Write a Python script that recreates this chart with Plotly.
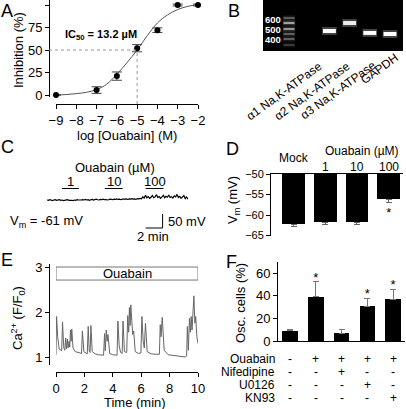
import numpy as np
import plotly.graph_objects as go

W, H = 406, 409
FONT = "Arial, Liberation Sans, sans-serif"

# ---------------- DATA ----------------
# Panel A: dose response
a_logc = [-9, -7, -6, -5, -4, -3, -2]
a_inh = [0, 5.5, 21, 52, 72, 100, 100]
a_err = [0, 3.7, 4.6, 4.0, 2.6, 1.0, 1.0]
a_fit_x = [-9, -8.5, -8, -7.5, -7, -6.5, -6, -5.5, -5, -4.5, -4, -3.5, -3, -2.5, -2]
a_fit_y = [0, 0.5, 1.5, 3, 6, 12, 23, 36, 50, 66, 80, 89, 95, 98.5, 100.5]
a_ic50_logc = -5.0
a_ic50_inh = 50
a_xticks = [-9, -8, -7, -6, -5, -4, -3, -2]
a_yticks = [0, 25, 50, 75, 100]

# Panel B: gel
b_ladder_bp = [662, 583, 500, 440, 387, 332]
b_ladder_int = [0.30, 0.55, 0.50, 0.30, 0.30, 0.18]
b_band_lane = [2, 3, 4, 5]
b_band_bp = [475, 583, 452, 440]
b_band_int = [1.0, 0.9, 1.0, 1.0]
b_marker_bp = [600, 500, 400]
b_lane_labels = ["α1 Na,K-ATPase", "α2 Na,K-ATPase", "α3 Na,K-ATPase", "GAPDH"]

# Panel C: membrane potential trace (mV), sampled every c_dt minutes
c_dt = 0.161
c_vm = [-61, -62, -60, -61, -63, -61, -60, -62, -61, -60, -62, -61, -63, -62, -61, -60,
        -62, -61, -62, -63, -61, -62, -60, -61, -62, -61, -60, -61, -59, -61, -60, -62,
        -60, -59, -61, -60, -58, -60, -61, -59, -60, -58, -60, -59, -61, -60, -58, -59,
        -60, -58, -59, -57, -59, -58, -60, -58, -59,
        -58, -57, -59, -57, -58, -56, -58, -57, -59, -56, -57, -55, -57,
        -50, -54, -44, -53, -49, -55, -51, -45, -53, -50, -42, -52, -49, -55, -50, -44,
        -53, -48, -51, -43, -52, -49, -54, -46, -50, -41, -52, -48, -55, -51, -45, -56,
        -50, -58]
c_drug_labels = ["1", "10", "100"]
c_drug_start = [1.75, 6.8, 11.6]
c_drug_end = [3.75, 8.9, 13.7]
c_baseline = -61

# Panel D: resting potential
d_groups = ["Mock", "1", "10", "100"]
d_vm = [-62.3, -61.8, -61.8, -56.2]
d_err = [0.5, 0.4, 0.5, 0.8]
d_yticks = [-50, -55, -60, -65]

# Panel E: calcium trace
e_t = [0.00, 0.04, 0.12, 0.22, 0.40, 0.46, 0.55, 0.62, 0.68, 0.74, 0.80, 0.85, 0.92, 0.97,
       1.02, 1.07, 1.11, 1.20, 1.35, 1.60, 1.80, 1.86, 1.96, 2.20, 2.27, 2.34, 2.40, 2.46,
       2.55, 2.75, 3.00, 3.35, 3.42, 3.47, 3.54, 3.60, 3.66, 3.78, 4.00, 4.30, 4.36, 4.45,
       4.55, 4.66, 4.72, 4.82, 4.98, 5.05, 5.12, 5.17, 5.22, 5.27, 5.34, 5.40, 5.47, 5.58,
       5.80, 5.98, 6.05, 6.14, 6.22, 6.30, 6.42, 6.70, 7.10, 7.28, 7.34, 7.40, 7.48, 7.62,
       7.90, 8.50, 9.10, 9.20, 9.25, 9.32, 9.40, 9.46, 9.52, 9.58, 9.65, 9.71, 9.78, 9.84,
       9.92, 10.0]
e_ratio = [1.05, 1.90, 1.45, 1.18, 1.14, 1.78, 1.20, 1.15, 1.42, 1.18, 1.40, 1.20, 1.35, 1.22,
           1.60, 1.35, 1.62, 1.20, 1.12, 1.10, 1.08, 1.58, 1.12, 1.07, 1.68, 1.13, 1.10, 1.70,
           1.12, 1.07, 1.05, 1.04, 1.52, 1.14, 1.60, 1.35, 1.50, 1.08, 1.05, 1.04, 1.80, 1.25,
           1.10, 1.08, 1.80, 1.12, 1.10, 1.92, 1.55, 2.10, 1.70, 2.16, 1.75, 1.50, 1.58, 1.12,
           1.08, 1.09, 1.90, 1.35, 1.20, 1.75, 1.12, 1.07, 1.06, 1.06, 1.72, 1.45, 1.88, 1.15,
           1.05, 1.02, 1.00, 1.02, 1.68, 1.15, 1.86, 1.55, 1.90, 1.60, 2.05, 2.36, 1.75, 1.90,
           1.45, 1.30]
e_drug_start, e_drug_end = 0, 10
e_box_low, e_box_high = 2.71, 3.0

# Panel F: oscillating cells
f_osc = [9.2, 39.2, 6.8, 30.9, 36.8]
f_err = [1.2, 13.2, 3.5, 6.8, 9.1]
f_sig = [False, True, False, True, True]
f_row_names = ["Ouabain", "Nifedipine", "U0126", "KN93"]
f_ouabain = ["-", "+", "+", "+", "+"]
f_nifedipine = ["-", "-", "+", "-", "-"]
f_u0126 = ["-", "-", "-", "+", "-"]
f_kn93 = ["-", "-", "-", "-", "+"]

# ---------------- HELPERS ----------------
def PX(x):
    return x / W


def PY(y):
    return 1 - y / H


def lin(p, p0, v0, p1, v1):
    return v0 + (p - p0) * (v1 - v0) / (p1 - p0)


def font(size=13, color="black"):
    return dict(family=FONT, size=size, color=color)


axis_base = dict(showgrid=False, zeroline=False, showline=True, linecolor="black",
                 linewidth=1, ticks="outside", ticklen=4, tickcolor="black",
                 tickwidth=1, tickfont=font(13), automargin=False)

fig = go.Figure()
ann = []
shapes = []

# ---------------- PANEL A ----------------
a_yr = [lin(97, 95, 0, 5, 100), lin(0, 95, 0, 5, 100)]
fig.add_trace(go.Scatter(x=a_fit_x, y=a_fit_y, mode="lines", line=dict(color="#555", width=1, shape="spline"),
                         xaxis="x", yaxis="y", hoverinfo="skip"))
fig.add_trace(go.Scatter(x=a_logc, y=a_inh, mode="markers", marker=dict(color="black", size=6),
                         error_y=dict(type="data", array=a_err, color="#444", thickness=1, width=5),
                         cliponaxis=False, xaxis="x", yaxis="y"))
a_dom_y = [PY(97), PY(0)]
y50_paper = a_dom_y[0] + (a_ic50_inh - a_yr[0]) / (a_yr[1] - a_yr[0]) * (a_dom_y[1] - a_dom_y[0])
shapes.append(dict(type="line", xref="paper", yref="y", x0=PX(49), x1=lin(a_ic50_logc, -9, 56, -2, 198) / W,
                   y0=a_ic50_inh, y1=a_ic50_inh, line=dict(color="#999", width=1, dash="dot")))
shapes.append(dict(type="line", xref="x", yref="paper", x0=a_ic50_logc, x1=a_ic50_logc,
                   y0=PY(104), y1=y50_paper, line=dict(color="#999", width=1, dash="dot")))
layout = dict(
    xaxis=dict(axis_base, domain=[PX(56), PX(198)], range=[-9, -2], anchor="free", position=PY(104),
               tickvals=a_xticks),
    yaxis=dict(axis_base, domain=a_dom_y, range=a_yr, anchor="free", position=PX(49),
               tickvals=a_yticks),
)
ann += [
    dict(text="Inhibition (%)", x=PX(18), y=PY(50), textangle=-90, font=font(13)),
    dict(text="log [Ouabain] (M)", x=PX(127), y=PY(135), font=font(13), borderpad=0),
    dict(text="<b>IC<sub>50</sub> = 13.2 µM</b>", x=PX(63), y=PY(35), xanchor="left", font=font(11)),
]

# ---------------- PANEL B ----------------
b_xr = [lin(263, 289, 0, 390, 5), lin(403, 289, 0, 390, 5)]
b_yr = [np.log10(500) - (51 - 29) / 90, np.log10(500) + 29 / 90]
shapes.append(dict(type="rect", xref="x2 domain", yref="y2 domain", x0=0, x1=1, y0=0, y1=1,
                   fillcolor="black", line=dict(width=0), layer="below"))
for bp, it in zip(b_ladder_bp, b_ladder_int):
    yv = np.log10(bp)
    fig.add_trace(go.Scatter(x=[-0.3, 0.3], y=[yv, yv], mode="lines", xaxis="x2", yaxis="y2",
                             line=dict(color=f"rgba(255,255,255,{it*0.35:.2f})", width=5), hoverinfo="skip"))
    fig.add_trace(go.Scatter(x=[-0.27, 0.27], y=[yv, yv], mode="lines", xaxis="x2", yaxis="y2",
                             line=dict(color=f"rgba(255,255,255,{it:.2f})", width=2), hoverinfo="skip"))
for ln, bp, it in zip(b_band_lane, b_band_bp, b_band_int):
    yv = np.log10(bp)
    fig.add_trace(go.Scatter(x=[ln - 0.36, ln + 0.36], y=[yv, yv], mode="lines", xaxis="x2", yaxis="y2",
                             line=dict(color="rgba(255,255,255,0.25)", width=8), hoverinfo="skip"))
    fig.add_trace(go.Scatter(x=[ln - 0.32, ln + 0.32], y=[yv, yv], mode="lines", xaxis="x2", yaxis="y2",
                             line=dict(color=f"rgba(255,255,255,{it:.2f})", width=4), hoverinfo="skip"))
for bp, ys in zip(b_marker_bp, [2, 0, -1.5]):
    ann.append(dict(text=f"<b>{bp}</b>", xref="x2", yref="y2", x=lin(263.5, 289, 0, 390, 5), y=np.log10(bp),
                    yshift=ys, xanchor="left", font=font(9.5, "white"), borderpad=0))
layout["xaxis2"] = dict(domain=[PX(263), PX(403)], range=b_xr, visible=False, anchor="y2")
layout["yaxis2"] = dict(domain=[PY(51), PY(0)], range=b_yr, visible=False, anchor="x2")
lab_end = [(326, 57), (354, 57), (380, 56), (402, 49)]
for txt, (ex, ey) in zip(b_lane_labels, lab_end):
    ann.append(dict(text=txt, x=PX(ex), y=PY(ey), xanchor="right", yanchor="top", textangle=-36,
                    font=font(12), borderpad=0))

# ---------------- PANEL C ----------------
c_t = [i * c_dt for i in range(len(c_vm))]
mvpp = 50 / 14.0
c_yr = [c_baseline - 40 * mvpp, c_baseline + 40 * mvpp]
fig.add_trace(go.Scatter(x=c_t, y=c_vm, mode="lines", line=dict(color="black", width=1.2),
                         xaxis="x3", yaxis="y3", hoverinfo="skip"))
bar_y = c_baseline + 11.5 * mvpp
for lab, s, e in zip(c_drug_labels, c_drug_start, c_drug_end):
    fig.add_trace(go.Scatter(x=[s, e], y=[bar_y, bar_y], mode="lines", line=dict(color="black", width=1),
                             xaxis="x3", yaxis="y3", hoverinfo="skip"))
    ann.append(dict(text=lab, xref="x3", x=(s + e) / 2, y=PY(181.5), font=font(13), borderpad=0))
sb_y = c_baseline - 28 * mvpp
sb_x1 = c_drug_start[2] + 2.0
fig.add_trace(go.Scatter(x=[c_drug_start[2], sb_x1, sb_x1], y=[sb_y, sb_y, sb_y + 50], mode="lines",
                         line=dict(color="black", width=1), xaxis="x3", yaxis="y3", hoverinfo="skip"))
layout["xaxis3"] = dict(domain=[PX(47), PX(188)], range=[0, 141 / 8.5], visible=False, anchor="y3")
layout["yaxis3"] = dict(domain=[PY(240), PY(160)], range=c_yr, visible=False, anchor="x3")
ann += [
    dict(text="Ouabain (µM)", x=PX(115), y=PY(167), font=font(13), borderpad=0),
    dict(text="V<sub>m</sub> = -61 mV", x=PX(46), y=PY(221), font=font(13)),
    dict(text="50 mV", x=PX(166), y=PY(221), xanchor="left", font=font(13)),
    dict(text="2 min", x=PX(153), y=PY(236), font=font(13)),
]

# ---------------- PANEL D ----------------
d_x = list(range(len(d_groups)))
fig.add_trace(go.Bar(x=d_x, y=[v + 50 for v in d_vm], base=-50, width=0.72, marker=dict(color="black", line=dict(width=0)),
                     error_y=dict(type="data", symmetric=False, array=[0] * 4, arrayminus=d_err,
                                  color="#666", thickness=1, width=3),
                     xaxis="x4", yaxis="y4"))
fig.add_trace(go.Scatter(x=[3], y=[d_vm[3] - d_err[3] - 2.6], mode="text", text=["*"], textfont=font(13),
                         xaxis="x4", yaxis="y4", cliponaxis=False))
layout["xaxis4"] = dict(domain=[PX(271), PX(403)], range=[-0.71, 3.45], anchor="y4", side="top",
                        showline=True, linecolor="black", linewidth=1, showticklabels=False, ticks="",
                        showgrid=False, zeroline=False)
layout["yaxis4"] = dict(axis_base, domain=[PY(236), PY(174)], range=[lin(236, 174, -50, 215, -60), -50],
                        anchor="x4", tickvals=d_yticks, tickfont=font(11))
ann.append(dict(text="Mock", xref="x4", x=0, y=PY(158), font=font(12), borderpad=0))
for i in range(1, 4):
    ann.append(dict(text=d_groups[i], xref="x4", x=i, y=PY(167), font=font(12), borderpad=0))
ann += [
    dict(text="Ouabain (µM)", x=PX(362), y=PY(151), font=font(12), borderpad=0),
    dict(text="V<sub>m</sub> (mV)", x=PX(233), y=PY(200), textangle=-90, font=font(13)),
]

# ---------------- PANEL E ----------------
e_yr = [lin(365, 357, 1, 312, 2), lin(264, 357, 1, 312, 2)]
fig.add_trace(go.Scatter(x=e_t, y=e_ratio, mode="lines", line=dict(color="#666", width=1),
                         xaxis="x5", yaxis="y5", hoverinfo="skip"))
shapes.append(dict(type="rect", xref="x5", yref="y5", x0=e_drug_start, x1=e_drug_end, y0=e_box_low,
                   y1=e_box_high, line=dict(color="#777", width=1), fillcolor="rgba(0,0,0,0)"))
ann.append(dict(text="Ouabain", xref="x5", yref="y5", x=(e_drug_start + e_drug_end) / 2,
                y=(e_box_low + e_box_high) / 2, font=font(13)))
layout["xaxis5"] = dict(axis_base, domain=[PX(56), PX(198)], range=[0, 10], anchor="free", position=PY(372),
                        tickvals=[0, 2, 4, 6, 8, 10])
layout["yaxis5"] = dict(axis_base, domain=[PY(365), PY(264)], range=e_yr, anchor="free", position=PX(49),
                        tickvals=[1, 2, 3])
ann += [
    dict(text="Ca<sup>2+</sup> (F/F<sub>0</sub>)", x=PX(18), y=PY(318), textangle=-90, font=font(13)),
    dict(text="Time (min)", x=PX(135), y=PY(402.5), font=font(13), borderpad=0),
]

# ---------------- PANEL F ----------------
f_x = list(range(len(f_osc)))
fig.add_trace(go.Bar(x=f_x, y=f_osc, width=0.6, marker=dict(color="black", line=dict(width=0)),
                     error_y=dict(type="data", symmetric=False, array=f_err, arrayminus=[0] * 5,
                                  color="#777", thickness=1, width=3),
                     xaxis="x6", yaxis="y6"))
sx = [i for i in f_x if f_sig[i]]
fig.add_trace(go.Scatter(x=sx, y=[f_osc[i] + f_err[i] + 3 for i in sx], mode="text", text=["*"] * len(sx),
                         textfont=font(13), xaxis="x6", yaxis="y6", cliponaxis=False))
layout["xaxis6"] = dict(domain=[PX(278), PX(405)], range=[-0.465, 4.46], anchor="y6", showline=True,
                        linecolor="black", linewidth=1, showticklabels=False, ticks="", showgrid=False,
                        zeroline=False)
layout["yaxis6"] = dict(axis_base, domain=[PY(341), PY(262)], range=[0, 70], anchor="x6",
                        tickvals=[0, 20, 40, 60])
ann.append(dict(text="Osc. cells (%)", x=PX(240), y=PY(303), textangle=-90, font=font(13)))
rows = [f_ouabain, f_nifedipine, f_u0126, f_kn93]
row_y = [359, 372, 385, 398]
for name, signs, ry in zip(f_row_names, rows, row_y):
    ann.append(dict(text=name, x=PX(276), y=PY(ry), xanchor="right", font=font(12), borderpad=0))
    for i, s in enumerate(signs):
        ann.append(dict(text=s, xref="x6", x=i, y=PY(ry), font=font(12), borderpad=0))

# ---------------- PANEL LETTERS ----------------
for letter, lx, ly, xa in [("A", 0, 8, "left"), ("B", 234, 8, "center"), ("C", 0, 147, "left"),
                           ("D", 232, 149, "center"), ("E", 0, 260, "left"), ("F", 231, 262, "center")]:
    ann.append(dict(text=letter, x=PX(lx), y=PY(ly), xanchor=xa, font=font(18), borderpad=0))
ann[-6]["y"] = 1.0
ann[-6]["yanchor"] = "top"
ann[-5]["y"] = 1.0
ann[-5]["yanchor"] = "top"

for a in ann:
    a.setdefault("xref", "paper")
    a.setdefault("yref", "paper")
    a.setdefault("xanchor", "center")
    a.setdefault("yanchor", "middle")
    a.setdefault("showarrow", False)

fig.update_layout(**layout)
fig.update_layout(width=W, height=H, margin=dict(l=0, r=0, t=0, b=0, pad=0, autoexpand=False), autosize=False,
                  paper_bgcolor="white", plot_bgcolor="rgba(0,0,0,0)", showlegend=False,
                  annotations=ann, shapes=shapes, font=font(13), bargap=0, hovermode=False)
fig.write_html("out.html", config={"displayModeBar": False, "staticPlot": True},
               post_script="document.body.style.margin='0px';document.body.style.overflow='hidden';")
